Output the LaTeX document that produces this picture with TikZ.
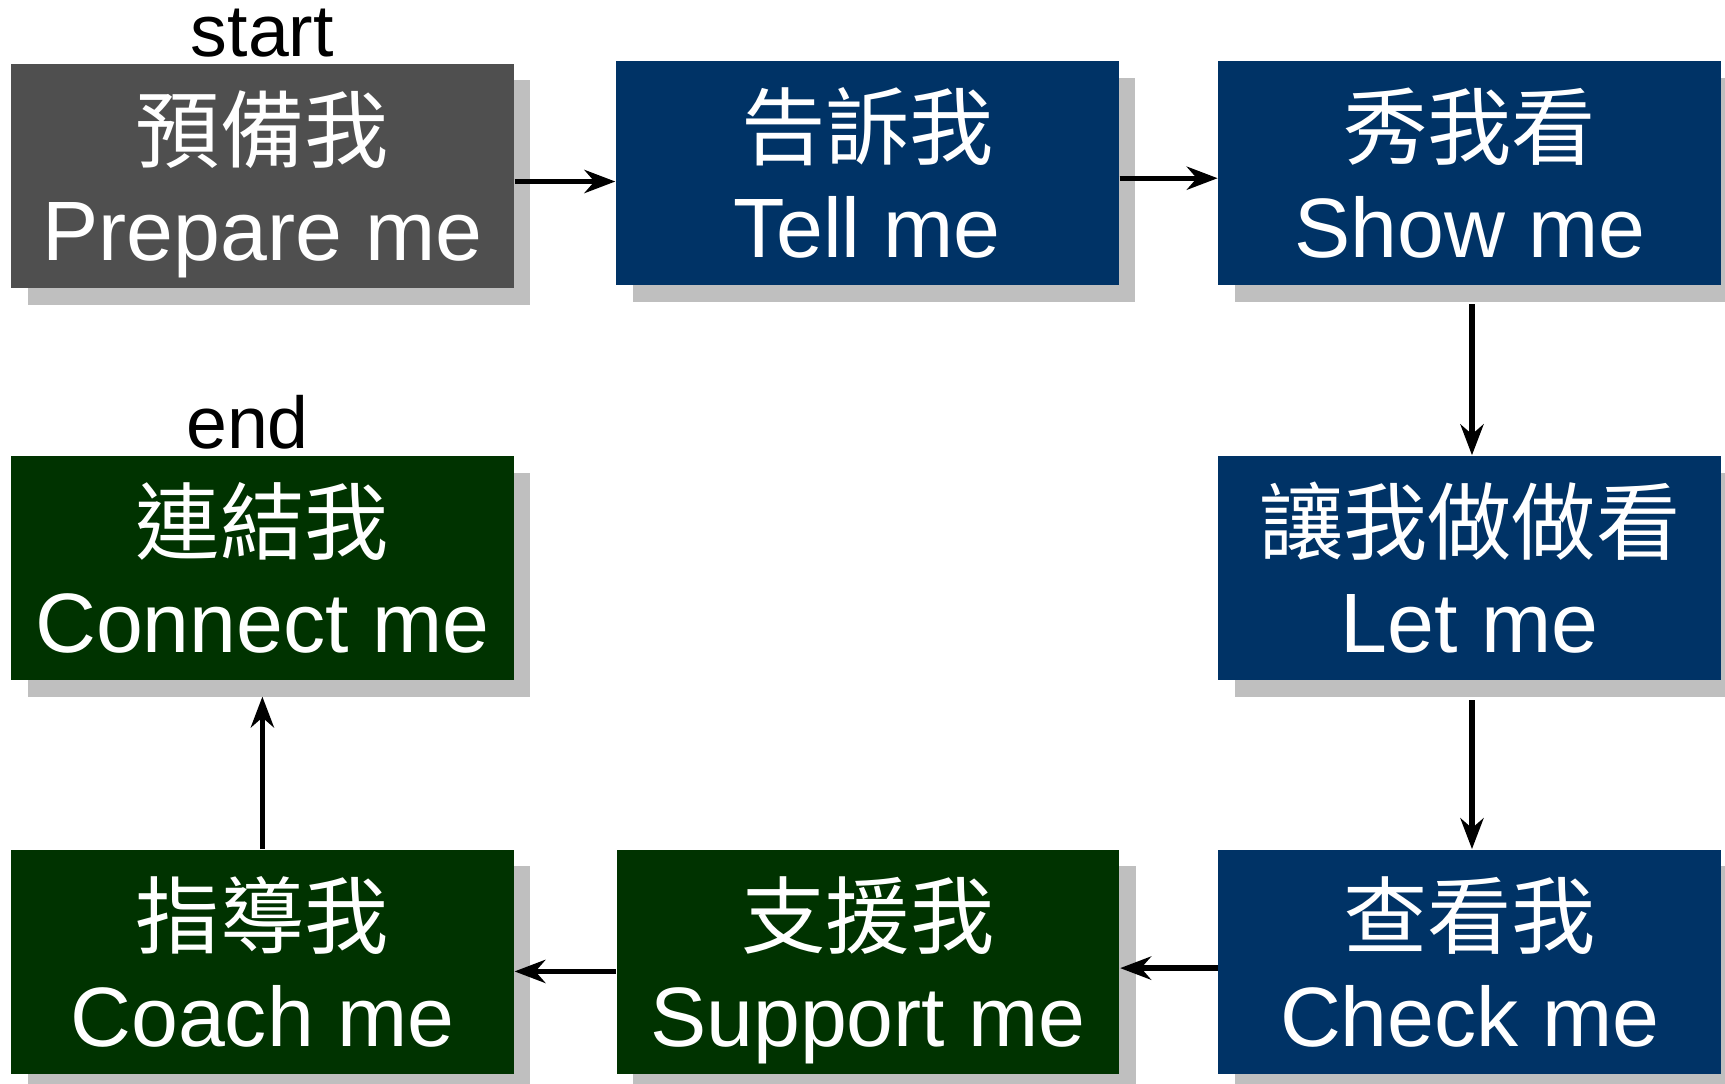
\documentclass[tikz,border=0pt]{standalone}
\usepackage{fontspec}
\setmainfont{Liberation Sans}
\newfontfamily\cjk{Noto Sans CJK TC}
\usetikzlibrary{arrows.meta,shadows}
\definecolor{stepgray}{HTML}{4F4F4F}
\definecolor{stepblue}{HTML}{003366}
\definecolor{stepgreen}{HTML}{003300}
\newcommand{\twoline}[2]{{\cjk #1}\\#2}

\begin{document}
\begin{tikzpicture}[
	stepbox/.style={minimum width=4.57cm, minimum height=2.04cm, inner sep=0pt,
		text=white, align=center, font=\fontsize{21.8}{25.6}\selectfont,
		text height=46pt, text depth=2.2pt,
		drop shadow={shadow xshift=0.15cm, shadow yshift=-0.15cm, fill=black!25, opacity=1}},
	tag/.style={anchor=base, font=\fontsize{19}{22}\selectfont},
	arr/.style={-{Stealth[length=2.8mm, width=2.1mm, inset=0.9mm]}, line width=1.4pt}
]
	\useasboundingbox (0,0) rectangle (15.68,-9.85);

	% top row
	\node[stepbox, fill=stepgray] (prepare) at (2.385,-1.60) {\twoline{預備我}{Prepare me}};
	\node[stepbox, fill=stepblue] (tell) at (7.885,-1.575) {\twoline{告訴我}{Tell me}};
	\node[stepbox, fill=stepblue] (show) at (13.36,-1.575) {\twoline{秀我看}{Show me}};

	% middle row
	\node[stepbox, fill=stepgreen] (connect) at (2.385,-5.165) {\twoline{連結我}{Connect me}};
	\node[stepbox, fill=stepblue] (letme) at (13.36,-5.165) {\twoline{讓我做做看}{Let me}};

	% bottom row
	\node[stepbox, fill=stepgreen] (coach) at (2.385,-8.745) {\twoline{指導我}{Coach me}};
	\node[stepbox, fill=stepgreen] (support) at (7.89,-8.745) {\twoline{支援我}{Support me}};
	\node[stepbox, fill=stepblue] (check) at (13.36,-8.745) {\twoline{查看我}{Check me}};

	\node[tag] (start) at ([yshift=0.06cm]prepare.north) {start};
	\node[tag] (end) at ([xshift=-0.135cm, yshift=0.065cm]connect.north) {end};

	\draw[arr] ([yshift=-0.05cm]prepare.east) -- ([yshift=-0.05cm]prepare.east -| tell.west);
	\draw[arr] ([yshift=-0.045cm]tell.east) -- ([yshift=-0.045cm]show.west);
	\draw[arr, shorten <=0.165cm] ([xshift=0.02cm]show.south) -- ([xshift=0.02cm]letme.north);
	\draw[arr, shorten <=0.175cm] ([xshift=0.02cm]letme.south) -- ([xshift=0.02cm]check.north);
	\draw[arr] ([yshift=-0.055cm]check.west) -- ([yshift=-0.055cm]support.east);
	\draw[arr] ([yshift=-0.085cm]support.west) -- ([yshift=-0.085cm]support.west -| coach.east);
	\draw[arr, shorten >=0.14cm] (coach.north) -- (connect.south);
\end{tikzpicture}
\end{document}
